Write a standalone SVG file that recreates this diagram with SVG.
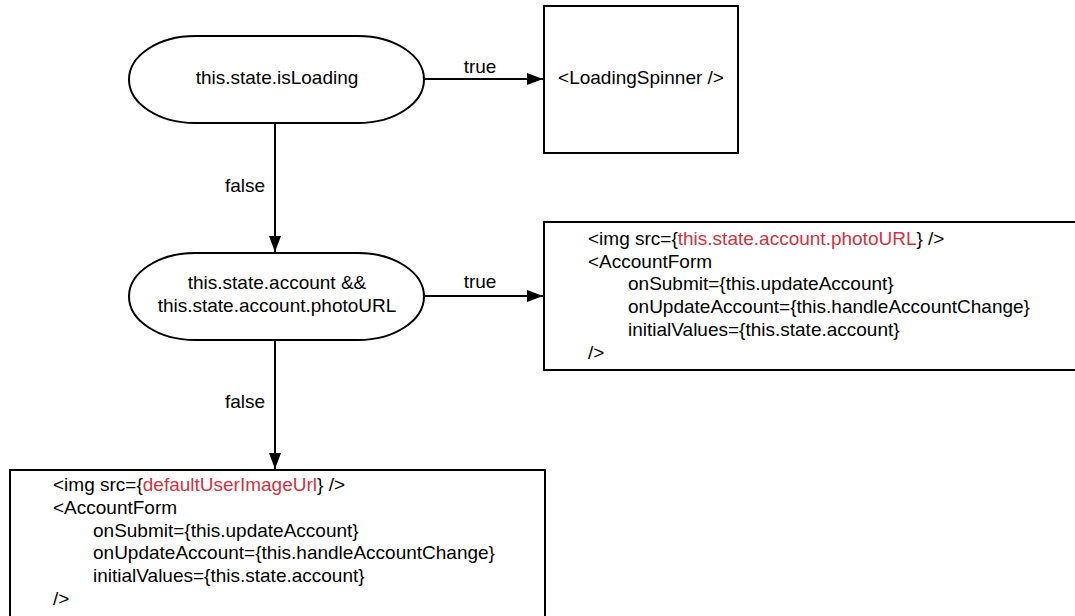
<svg xmlns="http://www.w3.org/2000/svg" width="1075" height="616" viewBox="0 0 1075 616">
<style>
.shape{fill:#fff;stroke:#000;stroke-width:2}
text{font-family:"Liberation Sans",Arial,sans-serif;font-size:19px;fill:#000}
.c{text-anchor:middle}
.r{fill:#d0343f}
.edge{stroke:#000;stroke-width:2;fill:none}
</style>
<defs>
<marker id="ah" markerWidth="16" markerHeight="12" refX="16" refY="6" orient="auto" markerUnits="userSpaceOnUse">
<path d="M0,0 L16,6 L0,12 Z" fill="#000"/>
</marker>
</defs>
<rect width="1075" height="616" fill="#fff"/>
<g id="connectors">
<line class="edge" x1="424" y1="79" x2="543" y2="79" marker-end="url(#ah)"/>
<line class="edge" x1="275" y1="123" x2="275" y2="252" marker-end="url(#ah)"/>
<line class="edge" x1="424" y1="296" x2="543" y2="296" marker-end="url(#ah)"/>
<line class="edge" x1="275" y1="340" x2="275" y2="469" marker-end="url(#ah)"/>
<text class="c" x="480" y="73">true</text>
<text class="c" x="245" y="192">false</text>
<text class="c" x="480" y="288">true</text>
<text class="c" x="245" y="408">false</text>
</g>
<g id="isLoading">
<rect class="shape" x="129" y="36" width="295" height="87" rx="66" ry="43.5"/>
<text class="c" x="277" y="84">this.state.isLoading</text>
</g>
<g id="spinner">
<rect class="shape" x="544" y="6" width="194" height="147"/>
<text class="c" x="641" y="84">&lt;LoadingSpinner /&gt;</text>
</g>
<g id="hasPhoto">
<rect class="shape" x="129" y="253" width="295" height="87" rx="66" ry="43.5"/>
<text class="c" x="277" y="289">this.state.account &amp;&amp;</text>
<text class="c" x="277" y="312">this.state.account.photoURL</text>
</g>
<g id="photoForm">
<rect class="shape" x="544" y="222" width="540" height="148"/>
<text x="588" y="245">&lt;img src={<tspan class="r">this.state.account.photoURL</tspan>} /&gt;</text>
<text x="588" y="268">&lt;AccountForm</text>
<text x="628" y="290">onSubmit={this.updateAccount}</text>
<text x="628" y="313">onUpdateAccount={this.handleAccountChange}</text>
<text x="628" y="336">initialValues={this.state.account}</text>
<text x="588" y="359">/&gt;</text>
</g>
<g id="defaultForm">
<rect class="shape" x="10" y="470" width="535" height="160"/>
<text x="53" y="491">&lt;img src={<tspan class="r">defaultUserImageUrl</tspan>} /&gt;</text>
<text x="53" y="514">&lt;AccountForm</text>
<text x="93" y="537">onSubmit={this.updateAccount}</text>
<text x="93" y="559">onUpdateAccount={this.handleAccountChange}</text>
<text x="93" y="582">initialValues={this.state.account}</text>
<text x="53" y="605">/&gt;</text>
</g>
</svg>
